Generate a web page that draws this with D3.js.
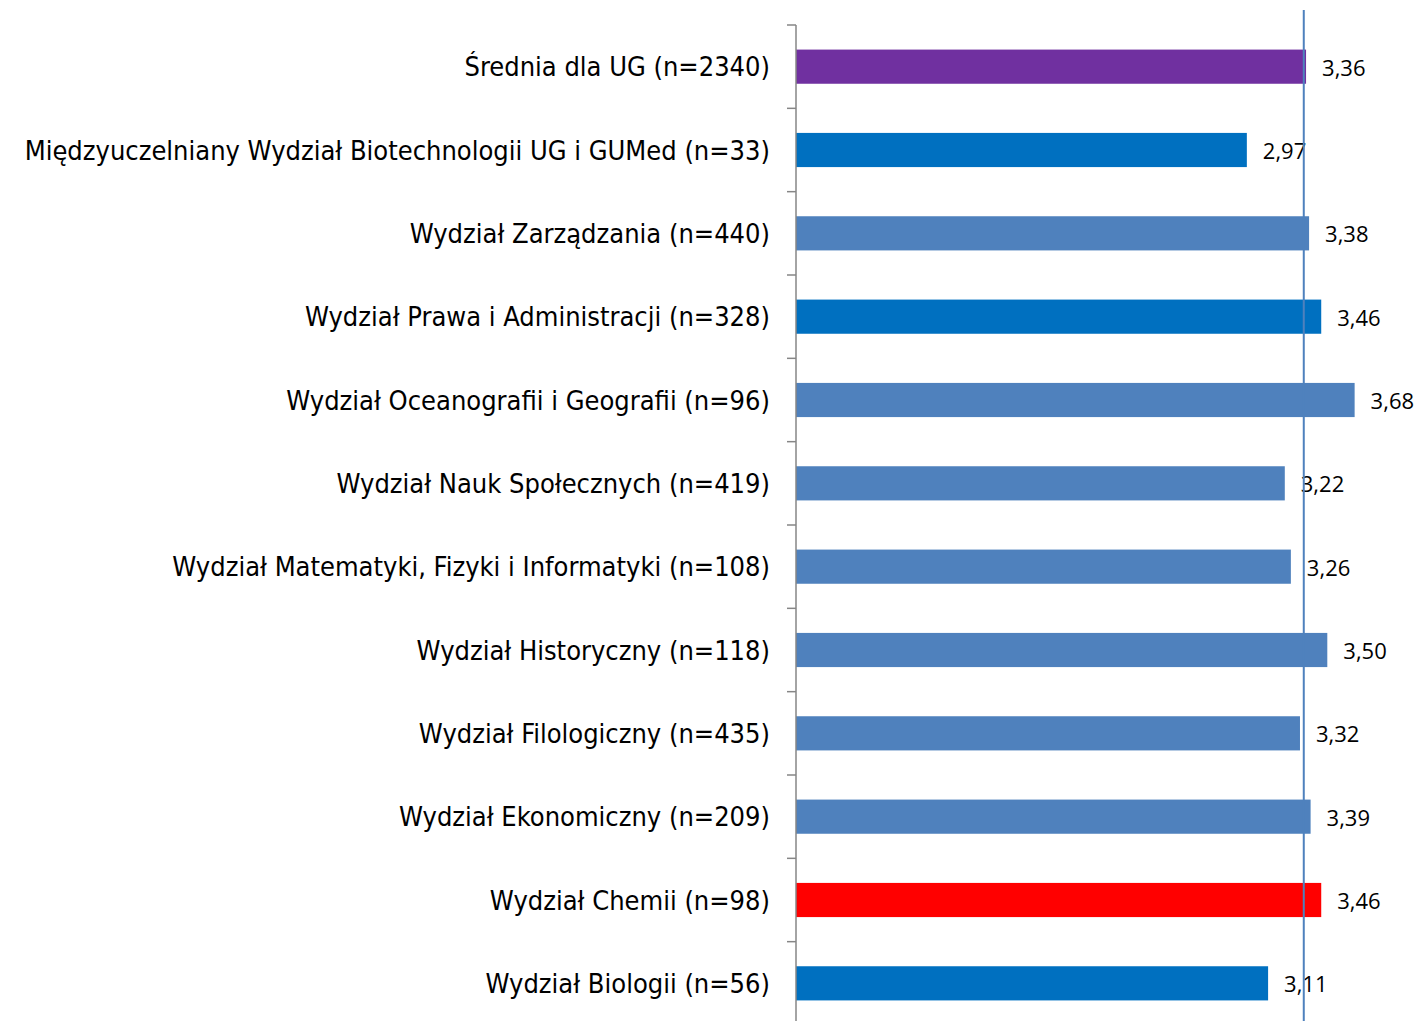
<!DOCTYPE html>
<html>
<head>
<meta charset="utf-8">
<script src="https://cdnjs.cloudflare.com/ajax/libs/d3/7.8.5/d3.min.js"></script>
<style>
	body { margin: 0; background: #fff; }
	svg { display: block; }
</style>
</head>
<body>
<svg id="chart" width="1419" height="1021"></svg>
<script>
var categories = [
	"Średnia dla UG (n=2340)",
	"Międzyuczelniany Wydział Biotechnologii UG i GUMed (n=33)",
	"Wydział Zarządzania (n=440)",
	"Wydział Prawa i Administracji (n=328)",
	"Wydział Oceanografii i Geografii (n=96)",
	"Wydział Nauk Społecznych (n=419)",
	"Wydział Matematyki, Fizyki i Informatyki (n=108)",
	"Wydział Historyczny (n=118)",
	"Wydział Filologiczny (n=435)",
	"Wydział Ekonomiczny (n=209)",
	"Wydział Chemii (n=98)",
	"Wydział Biologii (n=56)"
];
var values = [3.36, 2.97, 3.38, 3.46, 3.68, 3.22, 3.26, 3.50, 3.32, 3.39, 3.46, 3.11];
var barColors = ["#7030A0", "#0070C0", "#4F81BD", "#0070C0", "#4F81BD", "#4F81BD",
	"#4F81BD", "#4F81BD", "#4F81BD", "#4F81BD", "#FF0000", "#0070C0"];
var averageLine = 3.345;

var svg = d3.select("#chart");
var plotLeft = 796, plotTop = 25, plotBottom = 1025;

var x = d3.scaleLinear().domain([0, 4]).range([plotLeft, plotLeft + 4 * 151.8]);
var y = d3.scaleBand().domain(categories).range([plotTop, plotBottom]).paddingInner(0.59).paddingOuter(0.295);

// bars
svg.selectAll("rect.bar").data(values).enter().append("rect")
	.attr("class", "bar")
	.attr("x", x(0))
	.attr("y", function(d, i){ return y(categories[i]); })
	.attr("width", function(d){ return x(d) - x(0); })
	.attr("height", y.bandwidth())
	.attr("fill", function(d, i){ return barColors[i]; });

// category axis with ticks between bands
var step = (plotBottom - plotTop) / categories.length;
svg.append("line")
	.attr("x1", plotLeft).attr("x2", plotLeft)
	.attr("y1", plotTop).attr("y2", plotBottom)
	.attr("stroke", "#868686").attr("stroke-width", 1.5);
svg.selectAll("line.tick").data(d3.range(categories.length + 1)).enter().append("line")
	.attr("class", "tick")
	.attr("x1", plotLeft - 9).attr("x2", plotLeft)
	.attr("y1", function(i){ return plotTop + i * step; })
	.attr("y2", function(i){ return plotTop + i * step; })
	.attr("stroke", "#868686").attr("stroke-width", 1.5);

svg.selectAll("text.cat").data(categories).enter().append("text")
	.attr("class", "cat")
	.attr("x", plotLeft - 26)
	.attr("y", function(d){ return y(d) + y.bandwidth() / 2; })
	.attr("dy", "0.36em")
	.attr("text-anchor", "end")
	.attr("font-family", "'DejaVu Sans Condensed', 'DejaVu Sans', sans-serif")
	.attr("font-size", 27)
	.attr("fill", "#000")
	.text(function(d){ return d; });

// value labels
var fmt = function(v){ return v.toFixed(2).replace(".", ","); };
svg.selectAll("text.val").data(values).enter().append("text")
	.attr("class", "val")
	.attr("x", function(d){ return x(d) + 16; })
	.attr("y", function(d, i){ return y(categories[i]) + y.bandwidth() / 2 + 1; })
	.attr("dy", "0.36em")
	.attr("font-family", "'Open Sans', 'Liberation Sans', sans-serif")
	.attr("font-size", 22)
	.attr("fill", "#000")
	.text(fmt);

// average line
svg.append("line")
	.attr("x1", x(averageLine)).attr("x2", x(averageLine))
	.attr("y1", 10).attr("y2", 1021)
	.attr("stroke", "#4F81BD").attr("stroke-width", 2);
</script>
</body>
</html>
